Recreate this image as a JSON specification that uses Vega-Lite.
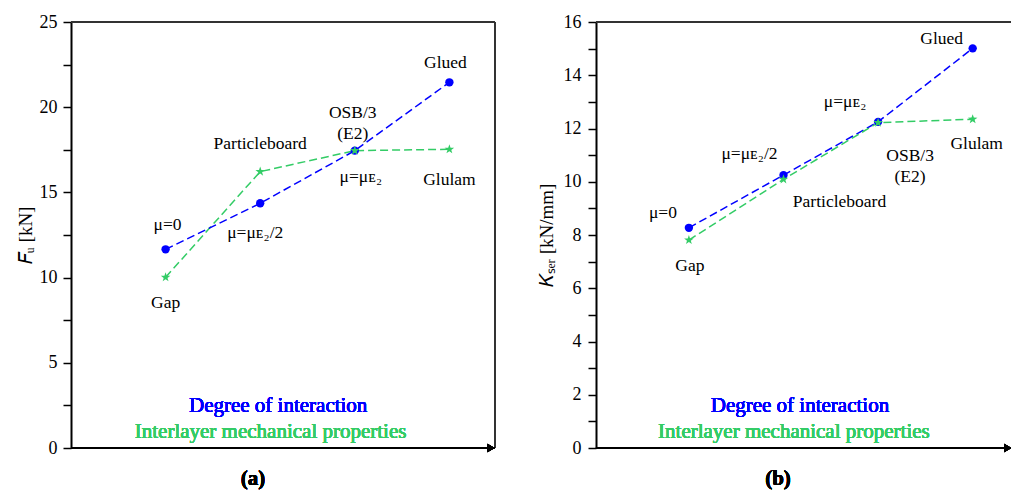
{
  "$schema": "https://vega.github.io/schema/vega-lite/v6.json",
  "autosize": {"type": "none"},
  "padding": {"left": 71, "top": 22, "right": 0, "bottom": 46},
  "width": 940,
  "height": 426,
  "config": {
    "view": {"stroke": null},
    "text": {"font": "Liberation Serif", "fontSize": 17.5, "color": "black"},
    "axis": {"grid": false, "domainColor": "black", "domainWidth": 2, "tickColor": "black", "tickWidth": 1.5,
             "labelFont": "Liberation Serif", "labelFontSize": 18, "labelColor": "black",
             "titleFont": "Liberation Serif", "titleFontSize": 19, "titleFontWeight": "normal", "titleColor": "black"}
  },
  "resolve": {"scale": {"x": "independent", "y": "independent"}, "axis": {"x": "independent", "y": "independent"}},
  "layer": [
    {
      "data": {"values": [
        {"series": "Degree of interaction", "level": 1, "value": 11.66, "label": "μ=0"},
        {"series": "Degree of interaction", "level": 2, "value": 14.36, "label": "μ=μᴇ₂/2"},
        {"series": "Degree of interaction", "level": 3, "value": 17.45, "label": "μ=μᴇ₂"},
        {"series": "Degree of interaction", "level": 4, "value": 21.46, "label": "Glued"},
        {"series": "Interlayer mechanical properties", "level": 1, "value": 10.02, "label": "Gap"},
        {"series": "Interlayer mechanical properties", "level": 2, "value": 16.22, "label": "Particleboard"},
        {"series": "Interlayer mechanical properties", "level": 3, "value": 17.45, "label": "OSB/3\n(E2)"},
        {"series": "Interlayer mechanical properties", "level": 4, "value": 17.53, "label": "Glulam"}
      ]},
      "encoding": {
        "x": {"field": "level", "type": "quantitative", "scale": {"domain": [0, 9.937], "nice": false, "zero": false}, "axis": null},
        "y": {"field": "value", "type": "quantitative", "scale": {"domain": [0, 25], "nice": false, "zero": false},
              "axis": {"orient": "left", "title": "𝐹ᵤ [kN]", "titlePadding": 4,
                       "values": [0, 2.5, 5, 7.5, 10, 12.5, 15, 17.5, 20, 22.5, 25],
                       "labelExpr": "datum.value % 5 === 0 ? datum.label : ''", "tickSize": 8, "labelPadding": 6,
                       "encode": {"ticks": {"update": {"x": {"signal": "datum.value % 5 === 0 ? -8 : -4"}, "x2": {"signal": "datum.value % 5 === 0 ? 8 : 4"}}}}}}
      },
      "layer": [
        {"mark": {"type": "rule", "color": "#333333", "strokeWidth": 1.2},
         "encoding": {"x": {"datum": 0}, "x2": {"datum": 4.48}, "y": {"datum": 25}}},
        {"mark": {"type": "rule", "color": "#333333", "strokeWidth": 1.2},
         "encoding": {"x": {"datum": 4.48}, "y": {"datum": 0}, "y2": {"datum": 25}}},
        {"mark": {"type": "rule", "color": "black", "strokeWidth": 2},
         "encoding": {"x": {"datum": 0}, "x2": {"datum": 4.48}, "y": {"datum": 0}}},
        {"mark": {"type": "point", "shape": "triangle-right", "filled": true, "color": "black", "size": 70, "opacity": 1},
         "encoding": {"x": {"datum": 4.44}, "y": {"datum": 0}}},
        {"transform": [{"filter": "datum.series === 'Interlayer mechanical properties'"}],
         "mark": {"type": "line", "color": "#33cc66", "strokeDash": [8, 4], "strokeWidth": 1.5}, "encoding": {}},
        {"transform": [{"filter": "datum.series === 'Degree of interaction'"}],
         "mark": {"type": "line", "color": "#0000ff", "strokeDash": [8, 4], "strokeWidth": 1.5}, "encoding": {}},
        {"transform": [{"filter": "datum.series === 'Degree of interaction'"}],
         "mark": {"type": "point", "shape": "circle", "filled": true, "color": "#0000ff", "size": 70, "opacity": 1}, "encoding": {}},
        {"transform": [{"filter": "datum.series === 'Degree of interaction' && datum.level === 1"}],
         "mark": {"type": "text", "dx": 2, "dy": -24}, "encoding": {"text": {"field": "label"}}},
        {"transform": [{"filter": "datum.series === 'Degree of interaction' && datum.level === 2"}],
         "mark": {"type": "text", "dx": -5, "dy": 30}, "encoding": {"text": {"field": "label"}}},
        {"transform": [{"filter": "datum.series === 'Degree of interaction' && datum.level === 3"}],
         "mark": {"type": "text", "dx": 6, "dy": 26}, "encoding": {"text": {"field": "label"}}},
        {"transform": [{"filter": "datum.series === 'Degree of interaction' && datum.level === 4"}],
         "mark": {"type": "text", "dx": -4, "dy": -19}, "encoding": {"text": {"field": "label"}}},
        {"transform": [{"filter": "datum.series === 'Interlayer mechanical properties' && datum.level === 1"}],
         "mark": {"type": "text", "dx": 0, "dy": 26}, "encoding": {"text": {"field": "label"}}},
        {"transform": [{"filter": "datum.series === 'Interlayer mechanical properties' && datum.level === 2"}],
         "mark": {"type": "text", "dx": 0, "dy": -28}, "encoding": {"text": {"field": "label"}}},
        {"transform": [{"filter": "datum.series === 'Interlayer mechanical properties' && datum.level === 3"}],
         "mark": {"type": "text", "dx": -2, "dy": -38, "lineBreak": "\n", "lineHeight": 21}, "encoding": {"text": {"field": "label"}}},
        {"transform": [{"filter": "datum.series === 'Interlayer mechanical properties' && datum.level === 4"}],
         "mark": {"type": "text", "dx": 0, "dy": 31}, "encoding": {"text": {"field": "label"}}},
        {"mark": {"type": "text", "text": "Degree of interaction", "color": "#0000ff", "fontSize": 21},
         "encoding": {"x": {"datum": 2.19}, "y": {"datum": 2.46}}},
        {"mark": {"type": "text", "text": "Interlayer mechanical properties", "color": "#33cc66", "fontSize": 21},
         "encoding": {"x": {"datum": 2.11}, "y": {"datum": 0.94}}},
        {"mark": {"type": "text", "text": "(a)", "fontSize": 21, "fontWeight": "bold"},
         "encoding": {"x": {"datum": 1.924}, "y": {"datum": -1.82}}}
      ]
    },
    {
      "data": {"values": [
        {"series": "Degree of interaction", "level": 1, "value": 8.27, "label": "μ=0"},
        {"series": "Degree of interaction", "level": 2, "value": 10.25, "label": "μ=μᴇ₂/2"},
        {"series": "Degree of interaction", "level": 3, "value": 12.25, "label": "μ=μᴇ₂"},
        {"series": "Degree of interaction", "level": 4, "value": 15.01, "label": "Glued"},
        {"series": "Interlayer mechanical properties", "level": 1, "value": 7.81, "label": "Gap"},
        {"series": "Interlayer mechanical properties", "level": 2, "value": 10.09, "label": "Particleboard"},
        {"series": "Interlayer mechanical properties", "level": 3, "value": 12.22, "label": "OSB/3\n(E2)"},
        {"series": "Interlayer mechanical properties", "level": 4, "value": 12.35, "label": "Glulam"}
      ]},
      "encoding": {
        "x": {"field": "level", "type": "quantitative", "scale": {"domain": [-5.532, 4.405], "nice": false, "zero": false}, "axis": null},
        "y": {"field": "value", "type": "quantitative", "scale": {"domain": [0, 16], "nice": false, "zero": false},
              "axis": {"orient": "left", "offset": -525, "title": "𝐾ₛₑᵣ [kN/mm]", "titlePadding": 7,
                       "values": [0, 1, 2, 3, 4, 5, 6, 7, 8, 9, 10, 11, 12, 13, 14, 15, 16],
                       "labelExpr": "datum.value % 2 === 0 ? datum.label : ''", "tickSize": 8, "labelPadding": 7,
                       "encode": {"ticks": {"update": {"x": {"signal": "datum.value % 2 === 0 ? -8 : -4"}, "x2": {"signal": "datum.value % 2 === 0 ? 8 : 4"}}}}}}
      },
      "layer": [
        {"mark": {"type": "rule", "color": "#333333", "strokeWidth": 1.2},
         "encoding": {"x": {"datum": 0.0177}, "x2": {"datum": 4.405}, "y": {"datum": 16}}},
        {"mark": {"type": "rule", "color": "black", "strokeWidth": 2},
         "encoding": {"x": {"datum": 0.0177}, "x2": {"datum": 4.405}, "y": {"datum": 0}}},
        {"mark": {"type": "point", "shape": "triangle-right", "filled": true, "color": "black", "size": 70, "opacity": 1},
         "encoding": {"x": {"datum": 4.37}, "y": {"datum": 0}}},
        {"transform": [{"filter": "datum.series === 'Degree of interaction'"}],
         "mark": {"type": "line", "color": "#0000ff", "strokeDash": [8, 4], "strokeWidth": 1.5}, "encoding": {}},
        {"transform": [{"filter": "datum.series === 'Interlayer mechanical properties'"}],
         "mark": {"type": "line", "color": "#33cc66", "strokeDash": [8, 4], "strokeWidth": 1.5}, "encoding": {}},
        {"transform": [{"filter": "datum.series === 'Degree of interaction'"}],
         "mark": {"type": "point", "shape": "circle", "filled": true, "color": "#0000ff", "size": 70, "opacity": 1}, "encoding": {}},
        {"transform": [{"filter": "datum.series === 'Degree of interaction' && datum.level === 1"}],
         "mark": {"type": "text", "dx": -26, "dy": -15}, "encoding": {"text": {"field": "label"}}},
        {"transform": [{"filter": "datum.series === 'Degree of interaction' && datum.level === 2"}],
         "mark": {"type": "text", "dx": -34, "dy": -21}, "encoding": {"text": {"field": "label"}}},
        {"transform": [{"filter": "datum.series === 'Degree of interaction' && datum.level === 3"}],
         "mark": {"type": "text", "dx": -33, "dy": -20}, "encoding": {"text": {"field": "label"}}},
        {"transform": [{"filter": "datum.series === 'Degree of interaction' && datum.level === 4"}],
         "mark": {"type": "text", "dx": -31, "dy": -9}, "encoding": {"text": {"field": "label"}}},
        {"transform": [{"filter": "datum.series === 'Interlayer mechanical properties' && datum.level === 1"}],
         "mark": {"type": "text", "dx": 1, "dy": 26}, "encoding": {"text": {"field": "label"}}},
        {"transform": [{"filter": "datum.series === 'Interlayer mechanical properties' && datum.level === 2"}],
         "mark": {"type": "text", "dx": 56, "dy": 23}, "encoding": {"text": {"field": "label"}}},
        {"transform": [{"filter": "datum.series === 'Interlayer mechanical properties' && datum.level === 3"}],
         "mark": {"type": "text", "dx": 32, "dy": 33, "lineBreak": "\n", "lineHeight": 21}, "encoding": {"text": {"field": "label"}}},
        {"transform": [{"filter": "datum.series === 'Interlayer mechanical properties' && datum.level === 4"}],
         "mark": {"type": "text", "dx": 4, "dy": 25}, "encoding": {"text": {"field": "label"}}},
        {"mark": {"type": "text", "text": "Degree of interaction", "color": "#0000ff", "fontSize": 21},
         "encoding": {"x": {"datum": 2.174}, "y": {"datum": 1.58}}},
        {"mark": {"type": "text", "text": "Interlayer mechanical properties", "color": "#33cc66", "fontSize": 21},
         "encoding": {"x": {"datum": 2.11}, "y": {"datum": 0.6}}},
        {"mark": {"type": "text", "text": "(b)", "fontSize": 21, "fontWeight": "bold"},
         "encoding": {"x": {"datum": 1.942}, "y": {"datum": -1.167}}}
      ]
    },
    {
      "data": {"values": [
        {"series": "Interlayer mechanical properties", "level": 1, "value": 10.02},
        {"series": "Interlayer mechanical properties", "level": 2, "value": 16.22},
        {"series": "Interlayer mechanical properties", "level": 3, "value": 17.45},
        {"series": "Interlayer mechanical properties", "level": 4, "value": 17.53}
      ]},
      "mark": {"type": "point", "shape": "M0,-1L0.235,-0.324L0.951,-0.309L0.380,0.124L0.588,0.809L0,0.4L-0.588,0.809L-0.380,0.124L-0.951,-0.309L-0.235,-0.324Z",
               "filled": true, "color": "#33cc66", "size": 100, "opacity": 1},
      "encoding": {
        "x": {"field": "level", "type": "quantitative", "scale": {"domain": [0, 9.937], "nice": false, "zero": false}, "axis": null},
        "y": {"field": "value", "type": "quantitative", "scale": {"domain": [0, 25], "nice": false, "zero": false}, "axis": null}
      }
    },
    {
      "data": {"values": [
        {"series": "Interlayer mechanical properties", "level": 1, "value": 7.81},
        {"series": "Interlayer mechanical properties", "level": 2, "value": 10.09},
        {"series": "Interlayer mechanical properties", "level": 3, "value": 12.22},
        {"series": "Interlayer mechanical properties", "level": 4, "value": 12.35}
      ]},
      "mark": {"type": "point", "shape": "M0,-1L0.235,-0.324L0.951,-0.309L0.380,0.124L0.588,0.809L0,0.4L-0.588,0.809L-0.380,0.124L-0.951,-0.309L-0.235,-0.324Z",
               "filled": true, "color": "#33cc66", "size": 100, "opacity": 1},
      "encoding": {
        "x": {"field": "level", "type": "quantitative", "scale": {"domain": [-5.532, 4.405], "nice": false, "zero": false}, "axis": null},
        "y": {"field": "value", "type": "quantitative", "scale": {"domain": [0, 16], "nice": false, "zero": false}, "axis": null}
      }
    }
  ]
}
